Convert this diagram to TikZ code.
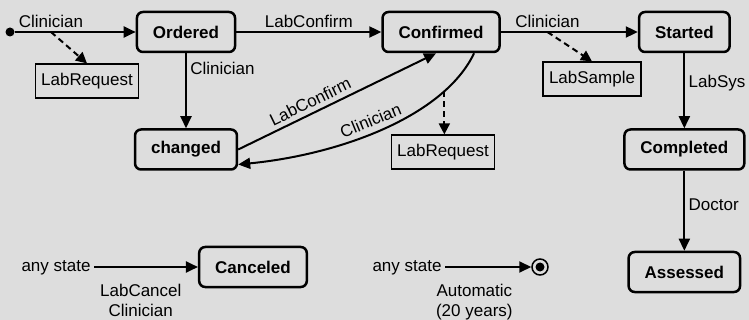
\documentclass[tikz,border=0pt]{standalone}
\usepackage{fontspec}
\setmainfont{Liberation Sans}
\usetikzlibrary{positioning, shapes, arrows.meta}

\definecolor{bggray}{RGB}{221,221,221}
\newcommand{\labfont}{\fontsize{17}{20}\selectfont}

\tikzset{
  state/.style={rectangle, rounded corners=6pt, draw, line width=2.5pt, minimum height=40pt, inner xsep=16pt, font=\labfont\bfseries},
  msgbox/.style={rectangle, draw, line width=1.2pt, minimum height=34pt, inner xsep=6pt, font=\labfont},
  startdot/.style={circle, fill, minimum size=9pt, inner sep=0pt},
  enddot/.style={circle, draw, line width=1.5pt, minimum size=16pt, inner sep=0pt,
    path picture={\fill (path picture bounding box.center) circle (4.5pt);}},
  anytext/.style={text height=8pt, text depth=0pt},
  trans/.style={line width=2pt, -{Triangle[length=12pt, width=11pt]}},
  sends/.style={line width=2pt, dash pattern=on 6pt off 4pt, -{Triangle[length=11pt, width=11pt]}},
}

\begin{document}
\begin{tikzpicture}[x=1pt, y=-1pt, every node/.append style={font=\labfont}]
  \fill[bggray] (0,0) rectangle (749,320);
  \useasboundingbox (0,0) rectangle (749,320);

  % Stati principali
  \node[state] (ordered) at (186,32) {Ordered};
  \node[state, right=145pt of ordered] (confirmed) {Confirmed};
  \node[state, right=137pt of confirmed] (started) {Started};
  \node[state, below=75pt of ordered] (changed) {changed};
  \node[state, below=75pt of started] (completed) {Completed};
  \node[state, below=80pt of completed] (assessed) {Assessed};
  \node[state] (canceled) at (253,267) {Canceled};

  % Messaggi
  \node[msgbox] (req1) at (87,81) {LabRequest};
  \node[msgbox] (sample) at (592,79) {LabSample};
  \node[msgbox] (req2) at (443,152) {LabRequest};

  % Inizio e fine
  \node[startdot] (init) at (10,32) {};
  \node[anytext] (any1) at (56,267) {any state};
  \node[anytext] (any2) at (407,267) {any state};
  \node[enddot] (done) at (540,267) {};

  % Transizioni
  \draw[trans] (init) -- node[pos=0.3, above] {Clinician} coordinate[pos=0.3] (c1) (ordered);
  \draw[sends] (c1) -- (req1.north);
  \draw[trans] (ordered) -- node[above] {LabConfirm} (confirmed);
  \draw[trans] (ordered) -- node[pos=0.2, right] {Clinician} (changed);
  \draw[trans] (changed.east) -- node[pos=0.39, sloped, above=1pt] {LabConfirm} ([xshift=-5pt]confirmed.south);
  \draw[trans] ([xshift=33pt]confirmed.south) .. controls +(-30,63) and +(102,-10) ..
    node[pos=0.53, sloped, above=2pt] {Clinician} coordinate[pos=0.22] (c2) ([yshift=-15pt]changed.east);
  \draw[sends] (c2) -- (c2 |- req2.north);
  \draw[trans] (confirmed) -- node[pos=0.34, above] {Clinician} coordinate[pos=0.34] (c3) (started);
  \draw[sends] (c3) -- (sample.north);
  \draw[trans] (started) -- node[pos=0.4, right] {LabSys} (completed);
  \draw[trans] (completed) -- node[pos=0.43, right] {Doctor} (assessed);

  % Transizioni da qualsiasi stato
  \draw[trans] (any1) -- node[pos=0.45, below=13pt, align=center] {LabCancel\\Clinician} (canceled);
  \draw[trans] (any2) -- node[pos=0.34, below=13pt, align=center] {Automatic\\(20 years)} (done);
\end{tikzpicture}
\end{document}
